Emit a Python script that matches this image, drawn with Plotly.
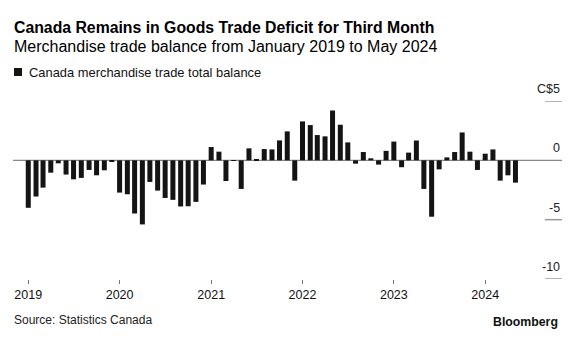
import plotly.graph_objects as go
import pandas as pd

# ---- data ----
months = pd.date_range("2019-01-01", "2024-05-01", freq="MS")
balance = [
    -4.0, -3.05, -2.3, -1.04, -0.25, -1.2, -1.6, -1.48, -0.81, -1.26, -0.84, -0.14,   # 2019
    -2.72, -2.86, -4.48, -5.4, -1.82, -2.55, -3.17, -3.33, -3.89, -3.87, -3.5, -2.04,  # 2020
    1.12, 0.73, -1.74, -0.05, -2.41, 1.01, 0.05, 0.95, 0.92, 1.68, 2.44, -1.71,       # 2021
    3.28, 2.97, 2.13, 2.02, 4.2, 3.0, 1.51, -0.28, 0.7, 0.17, -0.36, 0.8,             # 2022
    1.58, -0.58, 0.65, 1.67, -2.41, -4.75, -0.76, 0.25, 0.7, 2.35, 0.73, -0.81,       # 2023
    0.56, 0.92, -1.71, -1.26, -1.88,                                                   # 2024
]
year_ticks = ["2019-01-01", "2020-01-01", "2021-01-01", "2022-01-01", "2023-01-01", "2024-01-01"]
year_labels = ["2019", "2020", "2021", "2022", "2023", "2024"]
y_ticks = [5, 0, -5, -10]
y_labels = ["C$5", "0", "-5", "-10"]

title = "Canada Remains in Goods Trade Deficit for Third Month"
subtitle = "Merchandise trade balance from January 2019 to May 2024"
series_name = "Canada merchandise trade total balance"

# ---- layout geometry ----
W, H = 576, 343
ML, MR, MT, MB = 13, 14, 101, 64
plot_h = H - MT - MB
plot_w = W - ML - MR


def py(px):
    return (H - MB - px) / plot_h


def pxx(px):
    return (px - ML) / plot_w


FONT = "Liberation Sans, Arial, sans-serif"
DAY_MS = 86400000

fig = go.Figure()
fig.add_trace(go.Bar(
    x=months, y=balance, name=series_name,
    width=[20 * DAY_MS] * len(months),
    marker=dict(color="#141414", line=dict(width=0)),
    showlegend=False,
))

annotations = []
# title and subtitle
annotations.append(dict(text="<b>" + title + "</b>", xref="paper", yref="paper",
                        x=pxx(12), y=py(27), xanchor="left", yanchor="middle",
                        showarrow=False, font=dict(family=FONT, size=15.8, color="#000")))
annotations.append(dict(text=subtitle, xref="paper", yref="paper",
                        x=pxx(12), y=py(46.5), xanchor="left", yanchor="middle",
                        showarrow=False, font=dict(family=FONT, size=16, color="#000")))
# legend text
annotations.append(dict(text=series_name, xref="paper", yref="paper",
                        x=pxx(27), y=py(72.5), xanchor="left", yanchor="middle",
                        showarrow=False, font=dict(family=FONT, size=12.9, color="#111")))
# y-axis labels
for v, lab in zip(y_ticks, y_labels):
    annotations.append(dict(text=lab, xref="paper", yref="y", x=1.0, y=v,
                            xanchor="right", yanchor="bottom", yshift=3,
                            showarrow=False, font=dict(family=FONT, size=12.5, color="#222")))
# footer
annotations.append(dict(text="Source: Statistics Canada", xref="paper", yref="paper",
                        x=pxx(12), y=py(320), xanchor="left", yanchor="middle",
                        showarrow=False, font=dict(family=FONT, size=12, color="#222")))
annotations.append(dict(text="<b>Bloomberg</b>", xref="paper", yref="paper",
                        x=pxx(560), y=py(322), xanchor="right", yanchor="middle",
                        showarrow=False, font=dict(family=FONT, size=12.3, color="#111")))

shapes = []
# legend swatch
shapes.append(dict(type="rect", xref="paper", yref="paper",
                   x0=pxx(14), x1=pxx(22), y0=py(76), y1=py(68),
                   fillcolor="#141414", line=dict(width=0)))
# short y gridline segments at right
for v in y_ticks:
    if v == 0:
        continue
    shapes.append(dict(type="line", xref="paper", yref="y", x0=pxx(545), x1=1.0, y0=v, y1=v,
                       line=dict(color="#9a9a9a", width=1.5)))
# zero line across full width
shapes.append(dict(type="line", xref="paper", yref="y", x0=0, x1=1, y0=0, y1=0,
                   line=dict(color="#8a8a8a", width=1.2), layer="below"))

fig.update_layout(
    width=W, height=H,
    margin=dict(l=ML, r=MR, t=MT, b=MB, pad=0),
    paper_bgcolor="white", plot_bgcolor="white",
    annotations=annotations, shapes=shapes,
    showlegend=False,
    xaxis=dict(
        type="date", range=["2018-11-01", "2024-11-03"],
        tickvals=year_ticks, ticktext=year_labels,
        ticks="outside", ticklen=4, tickwidth=1, tickcolor="#777",
        showgrid=False, zeroline=False, showline=False,
        tickfont=dict(family=FONT, size=12.5, color="#111"),
    ),
    yaxis=dict(
        range=[-10, 5], showgrid=False, zeroline=False, showline=False,
        showticklabels=False, ticks="",
    ),
)

fig.write_html("out.html")
